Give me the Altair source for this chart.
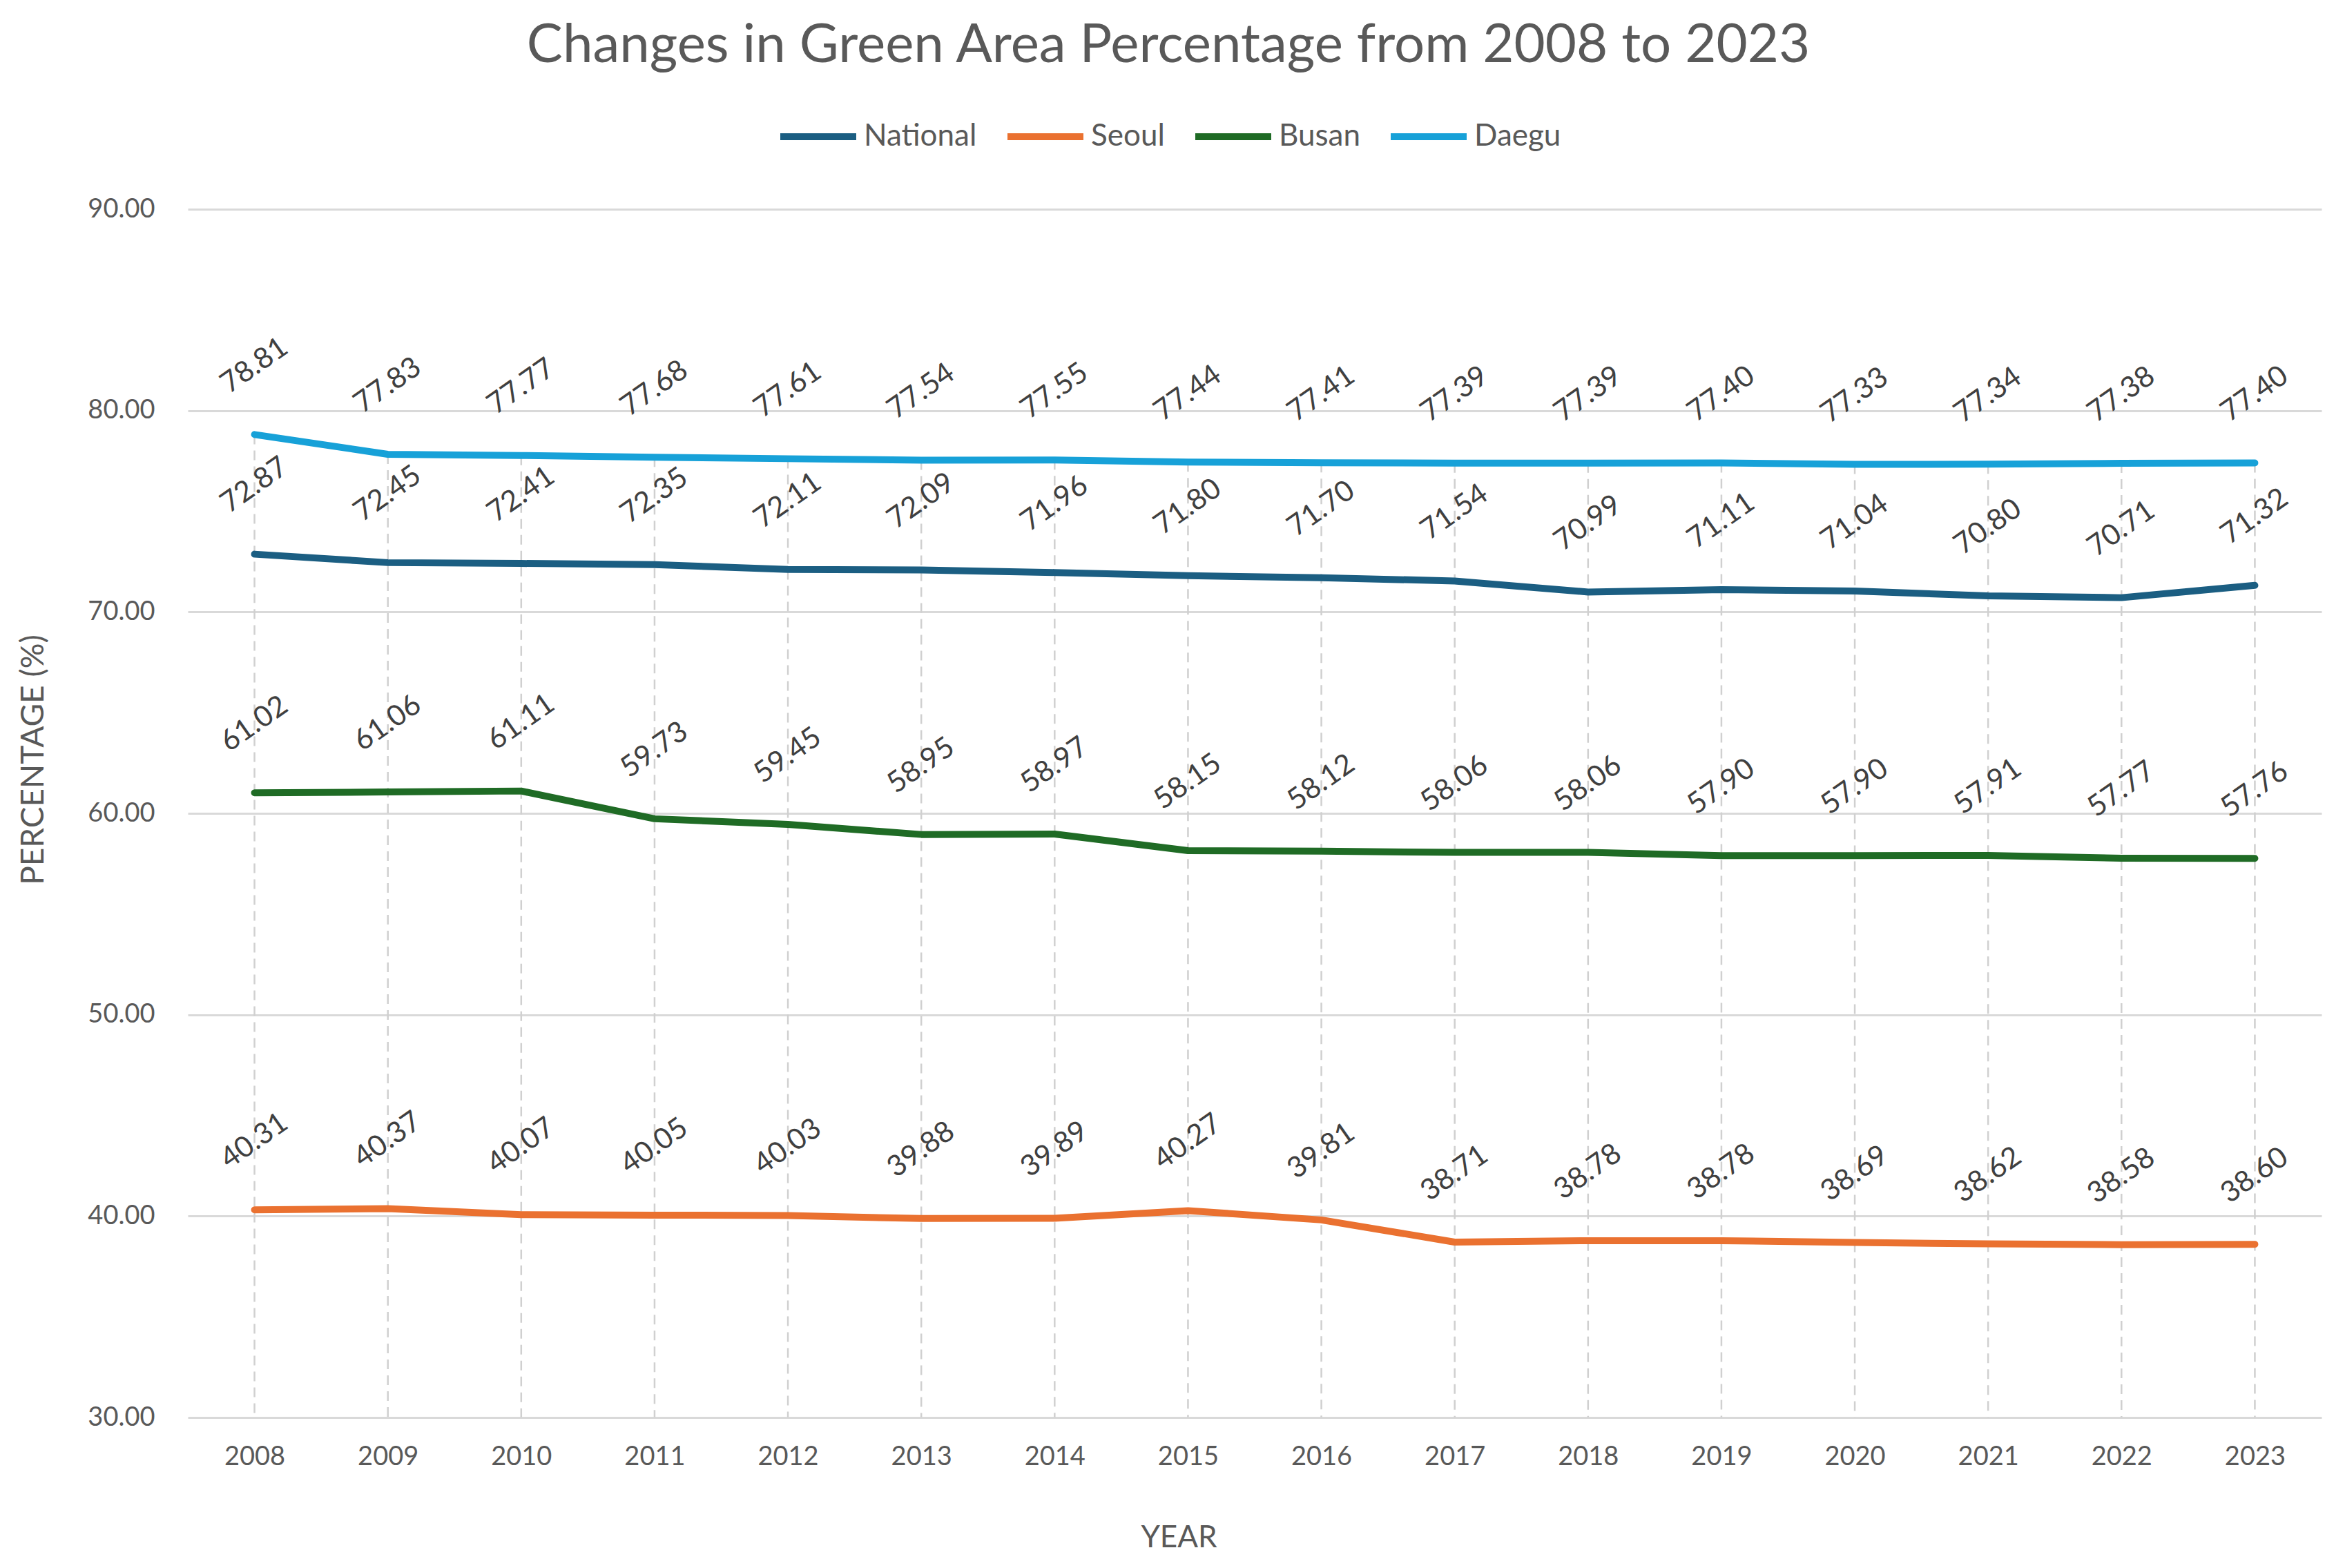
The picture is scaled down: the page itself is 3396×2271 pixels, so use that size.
import altair as alt
import pandas as pd

years = [str(y) for y in range(2008, 2024)]
national = [72.87, 72.45, 72.41, 72.35, 72.11, 72.09, 71.96, 71.80, 71.70, 71.54, 70.99, 71.11, 71.04, 70.80, 70.71, 71.32]
seoul = [40.31, 40.37, 40.07, 40.05, 40.03, 39.88, 39.89, 40.27, 39.81, 38.71, 38.78, 38.78, 38.69, 38.62, 38.58, 38.60]
busan = [61.02, 61.06, 61.11, 59.73, 59.45, 58.95, 58.97, 58.15, 58.12, 58.06, 58.06, 57.90, 57.90, 57.91, 57.77, 57.76]
daegu = [78.81, 77.83, 77.77, 77.68, 77.61, 77.54, 77.55, 77.44, 77.41, 77.39, 77.39, 77.40, 77.33, 77.34, 77.38, 77.40]
series_names = ["National", "Seoul", "Busan", "Daegu"]
series_colors = ["#1B5E82", "#EA7130", "#1F6B25", "#17A1D8"]
y_ticks = [30, 40, 50, 60, 70, 80, 90]

rows = []
for name, vals in zip(series_names, [national, seoul, busan, daegu]):
    for yr, v in zip(years, vals):
        rows.append({"Year": yr, "Series": name, "Value": v})
df = pd.DataFrame(rows)
drop_df = pd.DataFrame({"Year": years,
                        "Top": [max(a, b, c, d) for a, b, c, d in zip(national, seoul, busan, daegu)],
                        "Base": [y_ticks[0]] * len(years)})

FONT = "Lato"
TXT = "#595959"

x_enc = alt.X("Year:O", scale=alt.Scale(type="point", padding=0.5),
              axis=alt.Axis(title="YEAR", labelAngle=0, labelFont=FONT, labelFontSize=38,
                            labelColor=TXT, labelPadding=38, titleFont=FONT, titleFontSize=44,
                            titleColor=TXT, titleFontWeight="normal", titlePadding=76,
                            titleX=1435, titleAlign="center",
                            domain=False, ticks=False, grid=False))
y_scale = alt.Scale(domain=[30, 90])

drops = alt.Chart(drop_df).mark_rule(color="#D0D0D0", strokeWidth=2.5, strokeDash=[14, 9]).encode(
    x=x_enc,
    y=alt.Y("Top:Q", scale=y_scale,
            axis=alt.Axis(values=y_ticks, format=".2f", title="PERCENTAGE (%)",
                          labelFont=FONT, labelFontSize=38, labelColor=TXT, labelPadding=48,
                          titleFont=FONT, titleFontSize=46, titleColor=TXT, titleFontWeight="normal",
                          titleX=-224, titleY=797, titleAngle=270, titleAlign="center",
                          titleBaseline="middle",
                          grid=True, gridColor="#D9D9D9", gridWidth=3,
                          domain=False, ticks=False)),
    y2="Base:Q",
)

lines = alt.Chart(df).mark_line(strokeWidth=10, strokeCap="round", strokeJoin="round").encode(
    x=alt.X("Year:O"),
    y=alt.Y("Value:Q", scale=y_scale),
    color=alt.Color("Series:N", sort=series_names,
                    scale=alt.Scale(domain=series_names, range=series_colors),
                    legend=alt.Legend(orient="none", legendX=853, legendY=-165, direction="horizontal",
                                      title=None, symbolType="stroke", symbolSize=12100,
                                      symbolStrokeWidth=10, labelFont=FONT, labelFontSize=44,
                                      labelColor=TXT, labelLimit=500, columnPadding=24,
                                      labelOffset=6)),
    detail="Series:N",
)

labels = alt.Chart(df).mark_text(angle=325, align="center", baseline="middle", dx=57, dy=-82,
                                 font=FONT, fontSize=42, color="#404040").encode(
    x=alt.X("Year:O"),
    y=alt.Y("Value:Q", scale=y_scale),
    text=alt.Text("Value:Q", format=".2f"),
)

chart = alt.layer(drops, lines, labels).properties(
    width=3090, height=1750,
    autosize=alt.AutoSizeParams(type="none"),
    padding={"left": 264, "top": 295, "right": 26, "bottom": 208},
    title=alt.TitleParams("Changes in Green Area Percentage from 2008 to 2023", font=FONT,
                          fontSize=78, fontWeight="normal", color=TXT, anchor="middle",
                          frame="group", dx=-125, offset=32),
).configure_view(stroke=None)

chart.save("out.html", embed_options={"renderer": "svg", "actions": False})
